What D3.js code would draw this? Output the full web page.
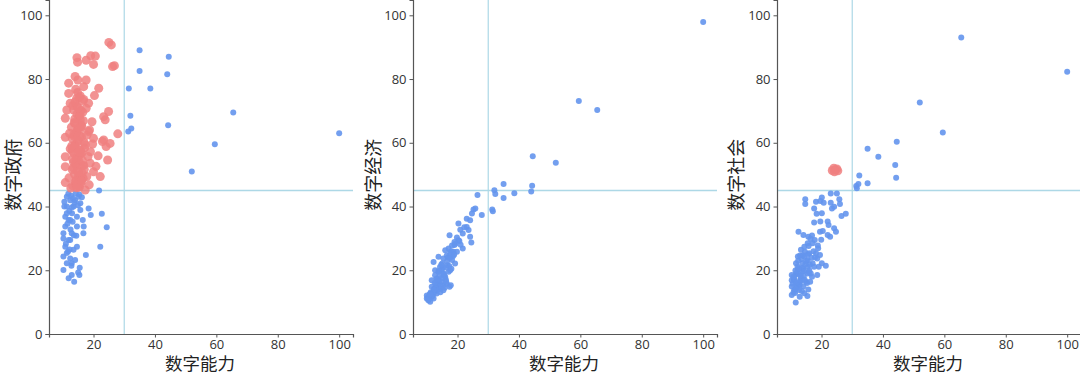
<!DOCTYPE html>
<html><head><meta charset="utf-8">
<script src="https://cdn.jsdelivr.net/npm/d3@7"></script>
<style>body{margin:0;background:#fff}svg{display:block}</style>
</head><body>
<svg id="c" width="1080" height="375"></svg>
<script>
// ---- data ----
const xTicks = [20, 40, 60, 80, 100];
const yTicks = [0, 20, 40, 60, 80, 100];
const xLabel = "数字能力";
const yLabels = ["数字政府", "数字经济", "数字社会"];
const refX = 30, refY = 45;

// shared outlier cities (数字能力 > 30)
const outX  = [31.3, 31.5, 32.0, 32.3, 35.0, 35.0, 38.5, 44.0, 44.3, 44.5, 52.0, 59.5, 65.5, 100];
const govOut = [63.5, 77.0, 68.5, 64.5, 89.0, 82.5, 77.0, 81.5, 65.5, 87.0, 51.0, 59.5, 69.5, 63.0];
const ecoOut = [39.1, 38.5, 45.1, 43.9, 47.1, 42.7, 44.2, 44.7, 46.5, 55.8, 53.7, 73.1, 70.3, 97.9];
const socOut = [46.4, 45.7, 47.1, 49.7, 58.1, 47.3, 55.6, 53.0, 49.0, 60.3, 72.6, 63.2, 93.0, 82.3];

// panel 1 cluster
const govX = [25.0,25.8,14.6,14.8,17.6,19.1,20.6,20.0,26.2,26.8,14.0,14.9,17.6,11.9,16.8,21.7,20.3,11.9,15.7,16.8,
  12.4,14.6,18.4,13.5,11.3,10.8,23.3,24.9,15.7,19.5,16.2,23.8,10.8,23.3,24.1,25.4,27.9,20.0,18.4,10.8,
  24.6,15.7,18.9,22.2,20.0,17.8,10.8,10.8,17.3,13.2,14.2,15.1,16.0,13.8,14.7,15.5,16.4,13.5,14.4,15.3,
  16.2,17.1,13.0,14.0,15.0,16.1,13.6,14.6,15.8,16.9,12.8,13.9,15.2,16.5,17.6,13.3,14.5,15.6,12.4,17.0,
  18.2,19.0,12.0,13.1,14.3,15.9,18.6,21.5,19.7,20.8,22.9,12.6,16.6,14.8,13.7,
  14.1,14.9,15.4,16.3,13.4,14.2,15.0,15.7,16.8,13.8,14.7,15.5,16.0,13.1,14.4,15.2,16.7,13.9,14.6,15.9,
  14.3,15.1,13.6,16.4,17.3,14.0,15.3,13.2,14.8,16.1,12.9,14.5,15.6,17.8,18.7,13.7,15.0,16.6,14.2,12.2,
  21.8,10.5,11.3,14.0,15.7,18.4,19.1,22.7,16.5,16.7,24.3,10.2,10.8,12.4,22.2,17.5,10.2,12.4,10.2,12.9,
  15.5,15.4,13.7,11.9,11.3,10.8,11.9,13.0,14.6,11.9,13.5,10.8,12.4,13.5,15.1,11.3,10.5,15.7,11.3,10.2,
  12.9,11.3,14.6,12.9,14.0,16.8,12.4,14.6,
  11.8,12.7,13.3,14.2,15.4,16.2,12.1,13.0,13.8,14.9,11.5,12.5,13.6,11.0,12.2,13.2,14.4,11.7,12.8,15.0];
const govY = [91.5,90.7,86.7,85.3,85.9,87.3,87.2,84.6,83.9,84.2,80.8,79.7,79.7,78.7,77.6,77.1,74.8,75.5,74.7,73.6,
  72.4,71.5,72.4,70.3,70.3,67.7,68.2,69.8,67.2,66.6,65.1,67.2,61.7,60.9,58.8,59.8,62.8,61.4,63.5,55.6,
  54.6,57.7,53.6,49.4,50.9,49.4,52.5,47.5,45.2,46.5,47.8,46.2,48.4,50.1,51.3,49.6,52.8,53.9,55.2,54.1,
  56.8,58.4,57.5,59.3,60.7,61.9,62.6,63.8,64.4,60.1,64.9,66.1,68.3,69.6,70.8,71.7,73.9,56.3,58.1,51.6,
  55.7,57.2,49.0,51.5,53.0,47.2,46.8,55.9,59.6,52.6,60.4,45.8,48.9,75.8,62.0,
  47.0,49.3,46.1,50.5,52.2,53.7,55.5,57.0,52.9,58.9,60.3,62.1,65.6,61.3,63.2,64.7,66.9,67.5,69.0,70.1,
  48.1,50.8,56.6,54.4,59.4,72.8,74.2,54.9,57.9,47.9,59.0,45.9,68.8,62.4,64.0,66.4,71.0,73.1,76.8,63.0,
  45.0,41.5,40.0,42.0,38.9,39.4,37.3,37.7,35.8,31.6,33.5,31.6,27.4,29.5,27.4,24.8,24.3,23.7,20.1,18.5,
  20.8,18.5,16.4,17.5,22.2,33.7,35.8,37.9,33.7,29.5,26.4,36.8,42.0,40.0,43.1,43.1,40.0,41.0,37.9,30.0,
  31.6,25.4,27.4,22.2,23.2,33.7,35.8,36.8,
  44.0,43.4,42.6,44.2,43.8,42.9,38.6,39.8,41.3,40.4,34.6,32.8,31.0,28.3,26.5,35.2,30.8,25.9,21.4,19.3];

// panel 2 cluster
const ecoX = [26.5,25.2,25.8,27.9,24.7,23.0,24.1,20.3,23.0,23.6,21.7,24.1,24.5,19.8,20.3,17.4,19.0,21.7,17.1,16.0,
  18.7,12.2,13.8,15.4,16.7,19.2,17.6,14.3,12.7,15.4,13.2,11.6,15.0,16.5,17.8,17.4,14.3,12.7,11.1,10.0,
  11.6,10.5,11.1,13.2,15.4,11.6,13.8,12.7,13.8,16.0,17.1,18.2,15.0,16.5,18.2,20.9,19.8,17.6,15.4,10.0,
  12.2,13.2,14.0,14.8,16.2,12.0,10.8,13.5,
  10.4,10.9,11.3,11.8,12.4,12.9,13.6,14.1,14.6,15.2,15.7,16.3,16.9,17.3,18.0,18.5,19.3,12.1,13.0,14.4,
  15.8,16.6,17.9,10.6,11.5,12.6,13.9,14.9,16.1,17.5,18.9,20.6,22.2,21.0,19.0,15.5,14.7,13.4,12.3,11.2];
const ecoY = [43.6,39.1,39.4,37.3,37.8,36.2,35.7,34.7,33.6,32.6,31.5,30.5,28.7,30.3,29.4,31.0,27.9,26.8,26.8,26.3,
  25.8,22.6,24.2,23.7,21.6,22.1,20.0,21.0,20.0,19.0,17.4,16.9,16.3,15.8,15.3,14.8,14.2,13.7,12.7,12.1,
  11.6,10.6,10.1,12.7,13.7,14.8,15.8,18.4,19.5,17.9,19.5,23.2,22.1,24.6,27.8,32.7,25.8,25.3,15.3,11.1,
  11.1,14.8,18.0,20.2,17.0,13.0,11.8,16.5,
  11.5,12.3,13.1,12.0,14.2,13.4,14.0,16.6,15.1,20.7,18.3,16.4,24.0,21.3,20.5,24.4,28.3,12.6,15.6,13.1,
  14.5,22.8,26.0,10.8,11.9,16.0,19.8,17.6,20.9,23.9,24.9,29.2,33.5,28.0,28.9,18.8,21.7,17.0,13.9,12.5];

// panel 3 cluster
const socX = [14.7,14.7,18.2,20.1,19.6,20.7,23.0,25.0,23.0,25.8,26.0,24.1,23.4,17.6,18.4,20.1,26.5,27.9,17.6,19.6,
  22.0,22.3,24.1,24.7,22.0,22.8,12.5,20.4,19.5,21.4,15.4,11.6,12.9,15.7,14.1,15.7,17.8,18.9,19.5,20.1,
  18.6,19.1,16.9,16.3,14.1,10.3,10.3,10.3,10.3,12.3,11.7,13.3,14.4,15.5,17.1,16.0,17.1,15.5,13.8,12.2,
  13.3,11.7,12.7,14.9,15.5,13.8,11.1,17.6,18.2,14.4,11.7,12.7,14.4,16.5,18.6,15.5,11.0,12.0,13.0,14.0,
  10.6,11.2,11.9,12.5,13.1,13.7,14.2,14.8,15.3,16.0,16.7,17.4,10.9,11.5,12.2,12.8,13.5,14.6,15.8,16.4,
  11.4,12.0,12.6,13.2,13.9,14.5,15.1,15.9,10.8,11.6,12.4,13.6,14.3,15.6,16.9,17.9,18.8,19.9,16.2,13.0];
const socY = [42.3,40.8,41.5,42.8,41.7,41.2,44.1,44.1,41.2,42.3,40.8,39.9,39.4,39.4,37.7,37.9,37.0,37.7,35.0,35.3,
  35.3,34.2,33.2,32.1,31.1,30.5,32.1,32.3,32.1,21.4,11.9,9.9,11.7,14.0,31.1,30.5,29.5,26.9,24.8,22.2,
  23.7,21.1,18.0,16.4,14.9,18.5,16.9,14.9,12.2,24.3,22.2,26.4,27.4,28.5,28.5,25.3,22.2,21.1,19.6,20.1,
  17.5,15.9,13.8,16.4,19.0,22.2,13.8,21.1,25.3,24.3,19.0,15.5,12.8,19.0,18.5,23.2,17.0,18.8,16.2,20.5,
  15.8,17.4,14.6,18.9,16.8,20.8,18.1,21.9,16.0,20.0,23.9,26.0,13.1,19.9,21.2,15.2,23.5,25.8,27.6,29.9,
  12.9,16.2,20.6,18.3,24.7,17.0,22.9,19.4,17.9,14.1,23.0,13.5,19.8,25.0,30.9,24.1,27.8,29.6,21.7,24.6];
// highlighted cities in panel 3
const socHiX = [23.5, 24.0, 24.5, 25.0, 25.3, 24.2];
const socHiY = [51.3, 52.0, 51.5, 51.8, 51.2, 50.9];

// ---- drawing ----
const svg = d3.select("#c");
const panels = [
  {x0: 49,  x1: 353,  yl: 14,  xl: 200, yLabel: yLabels[0],
   xs: govX.concat(outX), ys: govY.concat(govOut), hiX: [], hiY: [], redRule: true},
  {x0: 413, x1: 717,  yl: 374, xl: 564, yLabel: yLabels[1],
   xs: ecoX.concat(outX), ys: ecoY.concat(ecoOut), hiX: [], hiY: [], redRule: false},
  {x0: 777, x1: 1081, yl: 737, xl: 928, yLabel: yLabels[2],
   xs: socX.concat(outX), ys: socY.concat(socOut), hiX: socHiX, hiY: socHiY, redRule: false}
];
const blue = "#6495ed", red = "#f08080", refC = "#add8e6";
const y = d3.scaleLinear().domain([0, 104.8]).range([334, 0]);

panels.forEach(p => {
  const x = d3.scaleLinear().domain([5.5, 104.5]).range([p.x0, p.x1]);
  const g = svg.append("g");
  // reference lines
  g.append("line").attr("x1", x(refX)).attr("x2", x(refX)).attr("y1", 0).attr("y2", y(0))
    .attr("stroke", refC).attr("stroke-width", 1.2);
  g.append("line").attr("x1", p.x0).attr("x2", p.x1).attr("y1", y(refY)).attr("y2", y(refY))
    .attr("stroke", refC).attr("stroke-width", 1.5);
  // points
  const pts = p.xs.map((v, i) => ({x: v, y: p.ys[i], red: p.redRule && v < refX && p.ys[i] > refY}));
  g.selectAll("circle.b").data(pts.filter(d => !d.red)).join("circle")
    .attr("cx", d => x(d.x)).attr("cy", d => y(d.y)).attr("r", 3)
    .attr("fill", blue).attr("fill-opacity", 0.9);
  g.selectAll("circle.r").data(pts.filter(d => d.red)).join("circle")
    .attr("cx", d => x(d.x)).attr("cy", d => y(d.y)).attr("r", 4.5)
    .attr("fill", red).attr("fill-opacity", 0.85);
  g.selectAll("circle.h").data(p.hiX.map((v, i) => ({x: v, y: p.hiY[i]}))).join("circle")
    .attr("cx", d => x(d.x)).attr("cy", d => y(d.y)).attr("r", 4.5)
    .attr("fill", red).attr("fill-opacity", 0.85);
  // axes
  const xa = g.append("g").attr("transform", `translate(0,${y(0)})`)
    .call(d3.axisBottom(x).tickValues(xTicks).tickSize(3.5).tickPadding(2.5));
  const ya = g.append("g").attr("transform", `translate(${p.x0},0)`)
    .call(d3.axisLeft(y).tickValues(yTicks).tickSize(3.5).tickPadding(3));
  [xa, ya].forEach(a => {
    a.select(".domain").attr("stroke", "#555").attr("stroke-width", 1.2);
    a.selectAll(".tick line").attr("stroke", "#555");
    a.selectAll(".tick text").attr("fill", "#333").style("font-size", "13px")
      .style("font-family", "'Open Sans', sans-serif");
  });
  g.append("text").attr("x", p.xl).attr("y", 369.5).attr("text-anchor", "middle")
    .style("font-size", "17.5px").style("font-family", "'Noto Sans CJK SC', sans-serif")
    .attr("fill", "#222").text(xLabel);
  g.append("text").attr("transform", `translate(${p.yl + 6},${y(50)}) rotate(-90)`)
    .attr("text-anchor", "middle")
    .style("font-size", "18px").style("font-family", "'Noto Sans CJK SC', sans-serif")
    .attr("fill", "#222").text(p.yLabel);
});
</script>
</body></html>
